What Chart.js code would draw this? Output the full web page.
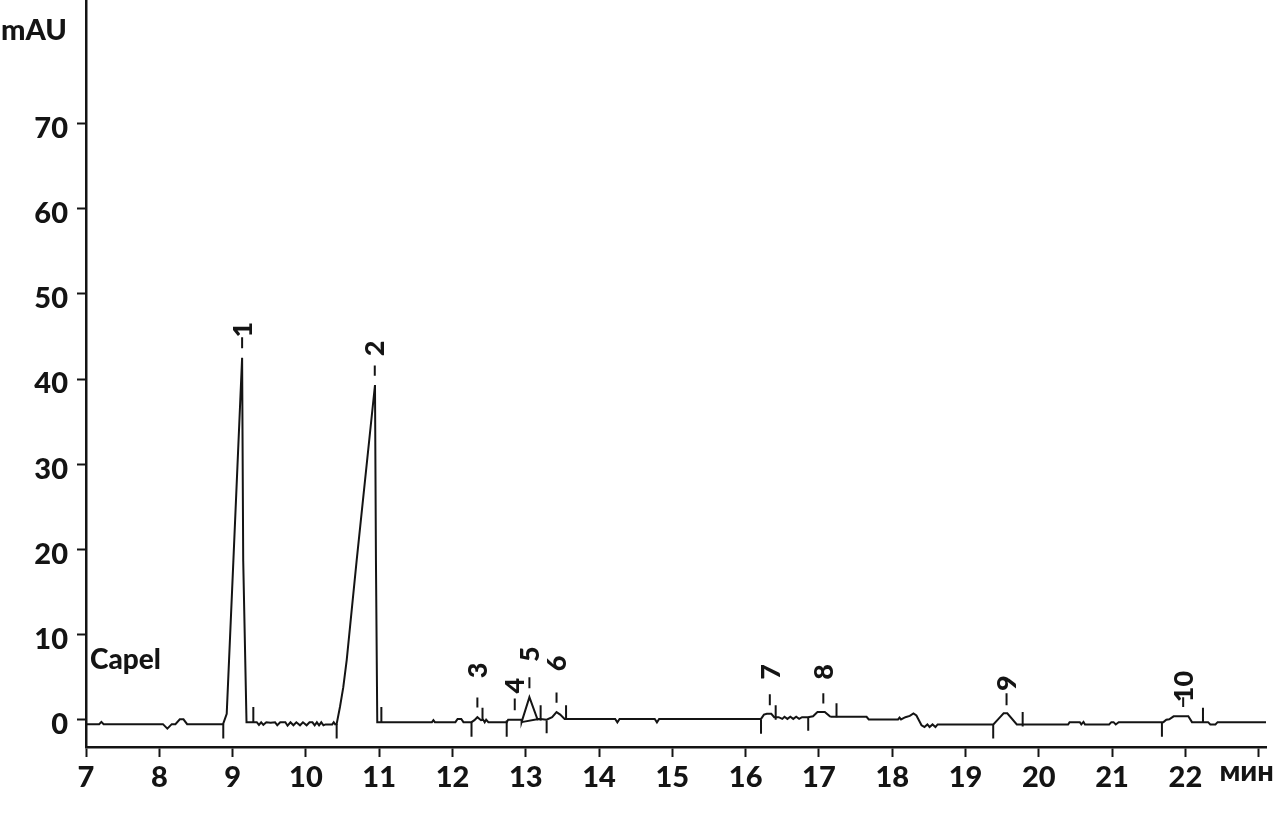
<!DOCTYPE html>
<html>
<head>
<meta charset="utf-8">
<script src="https://cdn.jsdelivr.net/npm/chart.js@4/dist/chart.umd.min.js"></script>
<style>
  html, body { margin: 0; padding: 0; background: #fff; }
  #wrap { width: 1277px; height: 827px; }
</style>
</head>
<body>
<div id="wrap"><canvas id="chrom" width="1277" height="827"></canvas></div>
<script>
// retention time (min) and detector signal (mAU)
const traceTime = [
  7.00, 7.18, 7.21, 7.24, 8.05, 8.11, 8.17, 8.22, 8.28, 8.33, 8.38, 8.87,
  8.92, 9.01, 9.13, 9.145, 9.19, 9.33,
  9.36, 9.39, 9.42, 9.46, 9.52, 9.58, 9.61, 9.65, 9.72, 9.75, 9.79, 9.83,
  9.87, 9.92, 9.96, 10.01, 10.05, 10.09, 10.12, 10.15, 10.18, 10.21, 10.24,
  10.27, 10.36, 10.38, 10.40, 10.42,
  10.465, 10.51, 10.557, 10.693, 10.943, 10.956, 10.974,
  11.72, 11.74, 11.76, 12.04, 12.07, 12.12, 12.15, 12.26, 12.30, 12.34,
  12.39, 12.42, 12.44, 12.46, 12.49, 12.74, 12.76, 12.943, 12.943, 13.05,
  13.16, 13.20, 13.285, 13.36, 13.42, 13.47, 13.53,
  14.22, 14.25, 14.28, 14.76, 14.79, 14.82,
  16.21, 16.25, 16.29, 16.35, 16.39, 16.45, 16.50, 16.53, 16.57, 16.61,
  16.65, 16.69, 16.73, 16.77, 16.85, 16.92, 16.98, 17.08, 17.15, 17.17,
  17.65, 17.68, 18.08, 18.10, 18.12, 18.18, 18.24, 18.29, 18.33, 18.40,
  18.44, 18.48, 18.51, 18.55, 18.59, 18.62,
  19.38, 19.45, 19.52, 19.57, 19.70,
  20.40, 20.42, 20.56, 20.58, 20.61, 20.63, 20.96, 20.99, 21.02, 21.05,
  21.09, 21.70, 21.74, 21.78, 21.84, 22.04, 22.09, 22.31, 22.34, 22.41,
  22.44, 23.10
];
const traceSignal = [
  -0.52, -0.52, -0.25, -0.52, -0.52, -1.05, -0.52, -0.52, 0.05, 0.05, -0.52, -0.52,
  0.7, 18.5, 42.5, 18.7, -0.28, -0.28,
  -0.6, -0.3, -0.6, -0.3, -0.35, -0.3, -0.65, -0.3, -0.3, -0.7, -0.3, -0.65,
  -0.3, -0.65, -0.3, -0.65, -0.3, -0.3, -0.65, -0.3, -0.65, -0.3, -0.65,
  -0.55, -0.55, -0.3, -0.55, -0.5,
  1.5, 3.8, 7.0, 18.7, 39.3, 18.7, -0.28,
  -0.28, -0.05, -0.28, -0.28, 0.1, 0.1, -0.28, -0.28, -0.05, 0.3,
  -0.05, 0.0, -0.3, 0.0, -0.28, -0.28, 0.0, 0.0, -0.28, 2.65,
  0.05, 0.1, 0.0, 0.3, 0.9, 0.6, 0.1,
  0.1, -0.3, 0.1, 0.1, -0.3, 0.1,
  0.1, 0.6, 0.7, 0.7, 0.3, 0.3, 0.1, 0.35, 0.1, 0.35,
  0.1, 0.35, 0.1, 0.3, 0.3, 0.4, 0.9, 0.9, 0.4, 0.35,
  0.35, 0.04, 0.04, 0.25, 0.04, 0.3, 0.45, 0.75, 0.5, -0.65,
  -0.85, -0.55, -0.85, -0.55, -0.85, -0.55,
  -0.55, 0.1, 0.75, 0.75, -0.55,
  -0.55, -0.28, -0.28, -0.55, -0.25, -0.55, -0.55, -0.28, -0.28, -0.55,
  -0.28, -0.28, 0.0, 0.05, 0.4, 0.4, -0.28, -0.28, -0.55, -0.55,
  -0.28, -0.28
];

// integration start/end markers: time, from, to (mAU)
const markTime = [8.873, 9.283, 10.42, 11.03, 12.26, 12.41, 12.74, 13.203, 13.285, 13.55,
                  16.21, 16.41, 16.854, 17.24, 19.378, 19.78, 21.68, 22.24];
const markFrom = [-0.5, 1.5, -0.5, 1.5, -0.3, 1.4, -0.1, 1.7, -0.1, 1.7,
                  0.0, 1.7, 0.3, 1.95, -0.55, 0.9, -0.28, 1.4];
const markTo   = [-2.2, -0.3, -2.2, -0.3, -2.0, -0.1, -2.0, -0.1, -1.6, 0.2,
                  -1.65, 0.0, -1.3, 0.3, -2.2, -0.8, -2.0, -0.3];

// drop baseline under peak 5
const dropTime = [12.943, 13.194];
const dropSignal = [-0.28, 0.12];

// peak labels
const peakNames = ['1', '2', '3', '4', '5', '6', '7', '8', '9', '10'];
const peakTime = [9.13, 10.94, 12.34, 12.85, 13.05, 13.42, 16.33, 17.06, 19.56, 21.97];
const peakTickTop = [44.9, 41.6, 2.6, 2.5, 5.0, 3.2, 3.0, 3.1, 3.1, 2.65];
const peakTickBottom = [43.6, 40.4, 1.45, 1.1, 3.7, 2.0, 1.7, 1.9, 1.7, 1.5];
const peakLabelLevel = [45.8, 43.6, 5.8, 4.0, 7.7, 6.6, 5.6, 5.6, 4.3, 3.9];

const xTicks = [7, 8, 9, 10, 11, 12, 13, 14, 15, 16, 17, 18, 19, 20, 21, 22, 23];
const yTicks = [0, 10, 20, 30, 40, 50, 60, 70];

const FONT = 'Lato, "Open Sans", sans-serif';
const INK = '#141414';

const tracePoints = traceTime.map((t, i) => ({ x: t, y: traceSignal[i] }));

const markPoints = [];
markTime.forEach((t, i) => {
  markPoints.push({ x: t, y: markFrom[i] }, { x: t, y: markTo[i] }, { x: t, y: null });
});
peakTime.forEach((t, i) => {
  markPoints.push({ x: t, y: peakTickTop[i] }, { x: t, y: peakTickBottom[i] }, { x: t, y: null });
});
dropTime.forEach((t, i) => markPoints.push({ x: t, y: dropSignal[i] }));

const textPlugin = {
  id: 'chromText',
  afterDraw(chart) {
    const { ctx, scales: { x, y } } = chart;
    ctx.save();
    ctx.fillStyle = INK;

    ctx.font = '900 29px ' + FONT;
    ctx.textAlign = 'center';
    ctx.textBaseline = 'middle';
    ctx.fillText('mAU', 34, 31);

    ctx.textAlign = 'left';
    ctx.font = '900 28px ' + FONT;
    ctx.fillText('Capel', x.left + 4, y.getPixelForValue(7.0));

    ctx.font = '900 29px ' + FONT;
    ctx.textAlign = 'center';
    ctx.fillText('мин', x.getPixelForValue(23) - 12, y.bottom + 25);

    ctx.font = '900 27px ' + FONT;
    peakNames.forEach((name, i) => {
      ctx.save();
      ctx.translate(x.getPixelForValue(peakTime[i]) + 1, y.getPixelForValue(peakLabelLevel[i]));
      ctx.rotate(-Math.PI / 2);
      ctx.textAlign = 'center';
      ctx.textBaseline = 'middle';
      ctx.fillText(name, 0, 0);
      ctx.restore();
    });
    ctx.restore();
  }
};

new Chart(document.getElementById('chrom'), {
  type: 'line',
  data: {
    datasets: [
      {
        data: tracePoints,
        borderColor: INK,
        borderWidth: 2,
        pointRadius: 0,
        tension: 0,
        fill: false
      },
      {
        data: markPoints,
        borderColor: INK,
        borderWidth: 2,
        pointRadius: 0,
        tension: 0,
        spanGaps: false,
        fill: false
      }
    ]
  },
  options: {
    responsive: false,
    animation: false,
    devicePixelRatio: 1,
    layout: { padding: { top: 0, right: 11, bottom: 0, left: 0 } },
    plugins: { legend: { display: false }, tooltip: { enabled: false } },
    scales: {
      x: {
        type: 'linear',
        min: 7,
        max: 23.1,
        afterBuildTicks: (s) => { s.ticks = xTicks.map(v => ({ value: v })); },
        afterFit: (s) => { s.height = 80; s.paddingLeft = 0; s.paddingRight = 0; },
        grid: { drawOnChartArea: false, drawTicks: true, tickLength: 10, tickWidth: 2, color: INK },
        border: { display: true, color: INK, width: 2.5 },
        ticks: {
          autoSkip: false,
          maxRotation: 0,
          padding: 3,
          color: INK,
          font: { family: FONT, size: 29, weight: '900' },
          callback: (v) => (v === 23 ? '' : String(v))
        }
      },
      y: {
        type: 'linear',
        min: -3.2,
        max: 84.5,
        afterBuildTicks: (s) => { s.ticks = yTicks.map(v => ({ value: v })); },
        afterFit: (s) => { s.width = 86; s.paddingTop = 0; s.paddingBottom = 0; },
        grid: { drawOnChartArea: false, drawTicks: true, tickLength: 9, tickWidth: 2, color: INK },
        border: { display: true, color: INK, width: 2.5 },
        ticks: {
          padding: 9,
          labelOffset: 5,
          color: INK,
          font: { family: FONT, size: 29, weight: '900' }
        }
      }
    }
  },
  plugins: [textPlugin]
});
</script>
</body>
</html>
